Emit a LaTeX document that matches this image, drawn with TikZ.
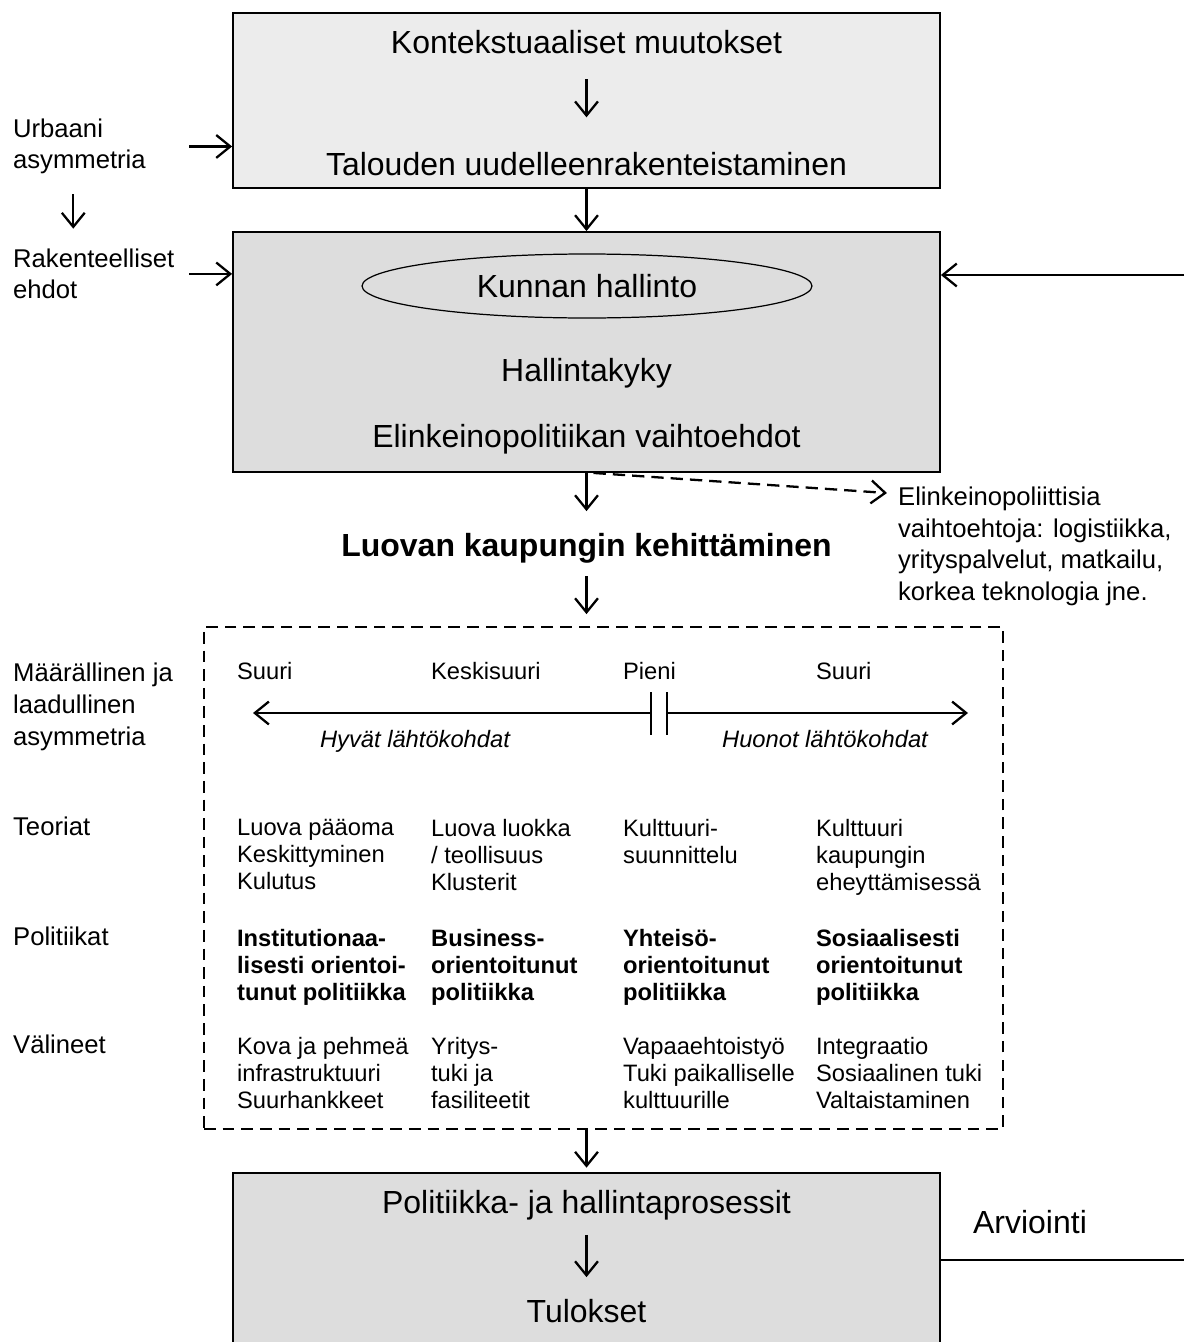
\documentclass[tikz,border=0pt]{standalone}
\usepackage{fontspec}
\setmainfont{Liberation Sans}
\usetikzlibrary{positioning, arrows.meta, shapes.geometric}
\definecolor{lightbox}{HTML}{ECECEC}
\definecolor{darkbox}{HTML}{DDDDDD}

\begin{document}
\begin{tikzpicture}
  [x=0.02cm, y=-0.02cm, line width=1.3pt, >={Straight Barb[length=8pt,width=13pt]},
   box/.style={draw, line width=1.1pt, minimum width=14.14cm},
   big/.style={font=\fontsize{18.2}{21}\selectfont, inner sep=0pt, anchor=base},
   lbl/.style={font=\fontsize{14.6}{17.5}\selectfont, align=left, anchor=north west, inner sep=0pt},
   cell/.style={font=\fontsize{13.5}{15.3}\selectfont, align=left, anchor=north west, inner sep=0pt},
   head/.style={font=\fontsize{13.5}{15.3}\selectfont, anchor=base west, inner sep=0pt},
   dashbox/.style={draw, line width=1.1pt, dash pattern=on 6.6pt off 4pt}]
  \useasboundingbox (0,0) rectangle (1184,1342);

  % boxes
  \node[box, fill=lightbox, minimum height=3.5cm] (top) at (586.5,100.5) {};
  \node[box, fill=darkbox, minimum height=4.8cm] (mid) at (586.5,352) {};
  \node[box, fill=darkbox, minimum height=4.3cm] (bot) at (586.5,1280.5) {};
  \node[dashbox, minimum width=15.98cm, minimum height=10.04cm] (frame) at (603.5,878) {};

  % texts in the boxes
  \node[big] (kont) at (586.5,53) {Kontekstuaaliset muutokset};
  \node[big] (talo) at (586.5,175) {Talouden uudelleenrakenteistaminen};
  \node[ellipse, draw, line width=0.7pt, minimum width=9cm, minimum height=1.28cm,
        inner sep=0pt, font=\fontsize{18.2}{21}\selectfont] (kunta) at (587,286) {Kunnan hallinto};
  \node[big] (hall) at (586.5,381) {Hallintakyky};
  \node[big] (vaiht) at (586.5,447) {Elinkeinopolitiikan vaihtoehdot};
  \node[big] (luova) at (586.5,556) {\bfseries Luovan kaupungin kehittäminen};
  \node[big] (pol) at (586.5,1213) {Politiikka- ja hallintaprosessit};
  \node[big] (tul) at (586.5,1322) {Tulokset};
  \node[big] (arv) at (1030,1233) {Arviointi};

  % side labels
  \node[lbl] (urb) at (12,118) {Urbaani\\asymmetria};
  \node[lbl] (rak) at (12,248) {Rakenteelliset\\ehdot};
  \node[lbl, font=\fontsize{14.6}{18}\selectfont] (elin) at (897,486) {Elinkeinopoliittisia\\vaihtoehtoja: logistiikka,\\yrityspalvelut, matkailu,\\korkea teknologia jne.};
  \node[lbl, font=\fontsize{14.6}{18.1}\selectfont] (maar) at (12,662) {Määrällinen ja\\laadullinen\\asymmetria};
  \node[lbl] (teor) at (12,816) {Teoriat};
  \node[lbl] (poli) at (12,926) {Politiikat};
  \node[lbl] (vali) at (12,1034) {Välineet};

  % scale
  \node[head] (h1) at (236,679) {Suuri};
  \node[head] (h2) at (430,679) {Keskisuuri};
  \node[head] (h3) at (622,679) {Pieni};
  \node[head] (h4) at (815,679) {Suuri};
  \node[head, anchor=base] (hyva) at (415,747) {\itshape Hyvät lähtökohdat};
  \node[head, anchor=base] (huono) at (825,747) {\itshape Huonot lähtökohdat};
  \coordinate (axL) at (253,713);
  \coordinate (gapL) at (651,713);
  \coordinate (gapR) at (667,713);
  \coordinate (axR) at (968,713);
  \draw[->] (gapL) -- (axL);
  \draw[->] (gapR) -- (axR);
  \draw (651,692) -- (651,735);
  \draw (667,692) -- (667,735);

  % columns
  \node[cell] (t1) at (236,818) {Luova pääoma\\Keskittyminen\\Kulutus};
  \node[cell] (t2) at (430,818) {Luova luokka\\/ teollisuus\\Klusterit};
  \node[cell] (t3) at (622,818) {Kulttuuri-\\suunnittelu};
  \node[cell] (t4) at (815,818) {Kulttuuri\\kaupungin\\eheyttämisessä};
  \node[cell, font=\fontsize{13.5}{15.3}\selectfont\bfseries] (p1) at (236,928) {Institutionaa-\\lisesti orientoi-\\tunut politiikka};
  \node[cell, font=\fontsize{13.5}{15.3}\selectfont\bfseries] (p2) at (430,928) {Business-\\orientoitunut\\politiikka};
  \node[cell, font=\fontsize{13.5}{15.3}\selectfont\bfseries] (p3) at (622,928) {Yhteisö-\\orientoitunut\\politiikka};
  \node[cell, font=\fontsize{13.5}{15.3}\selectfont\bfseries] (p4) at (815,928) {Sosiaalisesti\\orientoitunut\\politiikka};
  \node[cell] (v1) at (236,1036) {Kova ja pehmeä\\infrastruktuuri\\Suurhankkeet};
  \node[cell] (v2) at (430,1036) {Yritys-\\tuki ja\\fasiliteetit};
  \node[cell] (v3) at (622,1036) {Vapaaehtoistyö\\Tuki paikalliselle\\kulttuurille};
  \node[cell] (v4) at (815,1036) {Integraatio\\Sosiaalinen tuki\\Valtaistaminen};

  % arrows
  \draw[->, shorten <=14pt, shorten >=19pt] (kont) -- (talo);
  \draw[->] (top) -- (mid);
  \draw[->, shorten <=24pt] (urb.east) -- (urb.east -| top.west);
  \draw[->, shorten <=11pt, shorten >=11pt] ([xshift=-3.5pt]urb.south) -- ([xshift=-3.5pt]urb.south |- rak.north);
  \draw[->, shorten <=8pt] (rak.east) -- (rak.east -| mid.west);
  \coordinate (rin) at (1184,275);
  \draw[->] (rin) -- (rin -| mid.east);
  \draw[->, shorten >=11.7pt] (mid) -- (luova);
  \draw[->, dash pattern=on 7pt off 4pt] ([xshift=4pt]mid.south) -- ([xshift=-5.7pt, yshift=-4pt]elin.north west);
  \draw[->, shorten <=7pt, shorten >=6.8pt] (luova) -- (luova |- frame.north);
  \draw[->, shorten >=2.5pt] (bot.north |- frame.south) -- (bot.north);
  \draw[->, shorten <=8pt, shorten >=11.7pt] (pol) -- (tul);
  \coordinate (rout) at (1184,1260);
  \draw[line width=1pt] (rout -| bot.east) -- (rout);
\end{tikzpicture}
\end{document}
